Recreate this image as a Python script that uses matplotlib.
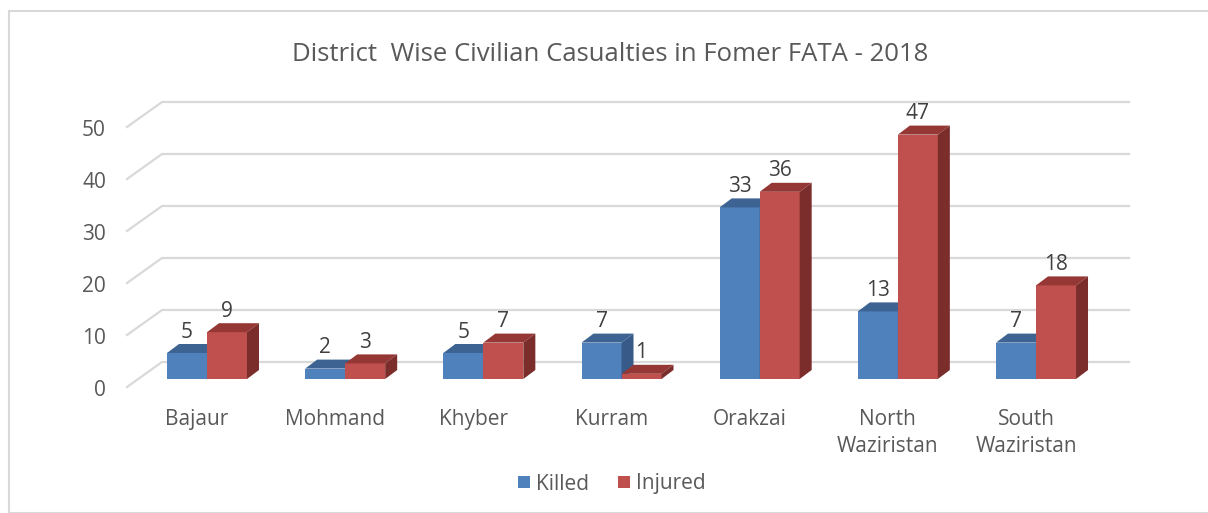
import matplotlib.pyplot as plt
from matplotlib.patches import Polygon, Rectangle, Patch

districts = ["Bajaur", "Mohmand", "Khyber", "Kurram", "Orakzai", "North\nWaziristan", "South\nWaziristan"]
killed = [5, 2, 5, 7, 33, 13, 7]
injured = [9, 3, 7, 1, 36, 47, 18]
yticks = [0, 10, 20, 30, 40, 50]

plt.rcParams['font.family'] = ['Open Sans', 'DejaVu Sans']
TXT = '#595959'
GRID = '#D9D9D9'

fig = plt.figure(figsize=(12.08, 5.13), dpi=100)
ax = fig.add_axes([0, 0, 1, 1])
ax.axis('off')

# pixel -> data scale
SX = 138.17
SY = 5.2
ax.set_xlim(-207 / SX, (1208 - 207) / SX)
ax.set_ylim(-134 / SY, 379 / SY)
PX = 1 / SX
PY = 1 / SY

# walls / gridlines (3d look)
xf = (127 - 207) * PX
xb = (162 - 207) * PX
xr = (1129 - 207) * PX
for v in yticks:
    yf = v - 8 * PY
    yb = v + 17 * PY
    ax.plot([xf, xb, xr], [yf, yb, yb], color=GRID, lw=1.6, zorder=1)
    ax.text(xf - 21 * PX, yf - 4 * PY, str(v), ha='right', va='center',
            fontsize=15, color=TXT)

w = 40 * PX
dx = 12 * PX
dy = 9 * PY


def bar3d(x0, v, front, top, side):
    x1 = x0 + w
    ax.bar(x0, v, width=w, align='edge', color=front, zorder=3)
    ax.add_patch(Polygon([(x0, v), (x1, v), (x1 + dx, v + dy), (x0 + dx, v + dy)],
                         closed=True, facecolor=top, edgecolor='none', zorder=3))
    ax.add_patch(Polygon([(x1, 0), (x1, v), (x1 + dx, v + dy), (x1 + dx, dy)],
                         closed=True, facecolor=side, edgecolor='none', zorder=3))
    ax.text(x0 + w / 2, v + 21 * PY, str(v), ha='center', va='center',
            fontsize=15, color='#404040', zorder=5)


for i, (k, inj) in enumerate(zip(killed, injured)):
    # draw in order so that the red bar covers blue's side face
    bar3d(i - w, k, '#4F81BD', '#3C6391', '#385A88')
    bar3d(i, inj, '#C0504D', '#953735', '#7B2D2B')
    ax.text(i - 10 * PX, (379 - 409) * PY, districts[i], ha='center', va='top',
            fontsize=15, color=TXT, linespacing=1.38)

fig.text(610 / 1208, 1 - 55 / 513, "District  Wise Civilian Casualties in Fomer FATA - 2018",
         ha='center', va='center', fontsize=18.5, color=TXT)

handles = [Patch(facecolor='#4F81BD', label='Killed'),
           Patch(facecolor='#C0504D', label='Injured')]
fig.legend(handles=handles, loc='center', bbox_to_anchor=(612 / 1208, 1 - 484 / 513),
           ncol=2, frameon=False, fontsize=15, labelcolor=TXT,
           handlelength=0.55, handleheight=0.55, handletextpad=0.3, columnspacing=1.4)

fig.add_artist(Rectangle((9 / 1208, 0), 1.2, 1 - 11 / 513, transform=fig.transFigure,
                         fill=False, edgecolor=GRID, lw=1.5))

fig.savefig('out.png', dpi=100)
